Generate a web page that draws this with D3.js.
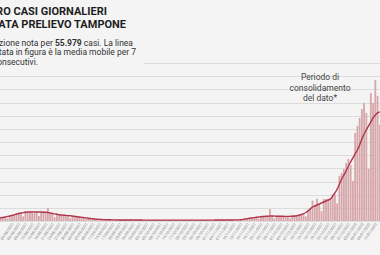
<!DOCTYPE html>
<meta charset="utf-8">
<style>
  body { margin: 0; background: #f4f4f4; overflow: hidden; }
  svg { display: block; font-family: Roboto, sans-serif; }
</style>
<body>
<script src="https://d3js.org/d3.v7.min.js"></script>
<script>
// daily cases by sample date, starting 25/07/2021
var startDate = "2021-07-25";
var casi = [
  1670, 3990, 4350, 4630, 5100, 5740, 5780,
  3760, 8740, 9360, 9890, 11010, 11970, 11550,
  7020, 15210, 14880, 14370, 14530, 14520, 13000,
  7520, 15570, 14710, 13880, 19800, 12930, 11000,
  5930, 11710, 10530, 9580, 9260, 8940, 7800,
  4350, 8560, 7690, 6860, 6380, 5900, 4910,
  2590, 4900, 4180, 3510, 3190, 2860, 2310,
  1250, 2420, 2200, 1920, 1910, 1750, 1590,
  840, 1750, 1670, 1600, 1600, 1600, 1440,
  760, 1580, 1510, 1450, 1440, 1430, 1290,
  740, 1540, 1480, 1410, 1400, 1390, 1260,
  720, 1490, 1430, 1370, 1360, 1350, 1230,
  700, 1450, 1400, 1340, 1330, 1330, 1210,
  710, 1480, 1430, 1380, 1380, 1390, 1270,
  760, 1600, 1550, 1500, 1520, 1530, 1400,
  840, 1790, 1760, 1720, 1760, 1800, 1900,
  1340, 3500, 4010, 4470, 4950, 5430, 5340,
  3340, 7520, 7520, 7450, 7600, 18200, 7200,
  4100, 8360, 8050, 7450, 7450, 7300, 6690,
  3950, 8360, 8360, 8510, 9270, 10340, 10490,
  7100, 17500, 20100, 31000, 24000, 34000, 24500,
  15000, 33300, 33400, 33400, 35100, 39900, 40400,
  26800, 68400, 73000, 79000, 88200, 94200, 85100,
  60800, 133800, 144400, 156600, 170200, 179400, 164200,
  79000, 194600, 179400, 214300, 190000, 146000
];
// 7-day moving average as drawn
var mediaMobile = [
  3040, 3500, 3950, 4410, 4860, 5470, 6080,
  6840, 7600, 8510, 9420, 10490, 11400, 12160,
  12770, 13220, 13530, 13680, 13830, 13830, 13680,
  13680, 13530, 13380, 13220, 12920, 12310, 11550,
  10790, 10180, 9580, 9120, 8820, 8510, 8210,
  7900, 7450, 6990, 6540, 6080, 5620, 5170,
  4710, 4260, 3800, 3340, 3040, 2740, 2430,
  2280, 2130, 1980, 1820, 1820, 1670, 1670,
  1520, 1510, 1500, 1500, 1490, 1480, 1470,
  1450, 1440, 1430, 1420, 1410, 1400, 1390,
  1380, 1370, 1360, 1350, 1340, 1340, 1330,
  1320, 1310, 1300, 1290, 1290, 1280, 1280,
  1270, 1270, 1260, 1260, 1260, 1270, 1270,
  1280, 1290, 1300, 1310, 1330, 1340, 1360,
  1380, 1400, 1420, 1440, 1460, 1490, 1510,
  1540, 1570, 1600, 1640, 1680, 1720, 1980,
  2430, 3040, 3650, 4260, 4710, 5170, 5620,
  6080, 6540, 6840, 7140, 7300, 7600, 7600,
  7450, 7300, 7300, 7140, 7140, 6990, 6990,
  7140, 7300, 7600, 8060, 8820, 9880, 11100,
  12920, 15200, 18240, 21280, 22800, 24320, 25840,
  27360, 28880, 30400, 31920, 33440, 38000, 42560,
  48640, 56240, 63840, 69920, 76000, 83600, 89680,
  95760, 101840, 107920, 115520, 124640, 132240, 138320,
  144400, 150480, 156560, 161120, 164160, 165680
];
var titolo = ["NUMERO CASI GIORNALIERI", "PER DATA PRELIEVO TAMPONE"];
var nota = "Periodo di|consolidamento|del dato*".split("|");

var width = 380, height = 255;
var svg = d3.select("body").append("svg")
    .attr("width", width)
    .attr("height", height);

var date = d3.timeDay.range(d3.isoParse(startDate), d3.timeDay.offset(d3.isoParse(startDate), casi.length));
var data = date.map(function(d, i) { return {date: d, casi: casi[i], media: mediaMobile[i]}; });

var x = d3.scaleBand().domain(date).range([-9.1, 380.7]).paddingInner(0.2);
var y = d3.scaleLinear().domain([0, 240000]).range([221, 63]);

// gridlines
svg.append("g")
  .selectAll("line")
  .data(y.ticks(12))
  .join("line")
    .attr("x1", 0).attr("x2", width)
    .attr("y1", function(d) { return Math.round(y(d)) + 0.5; })
    .attr("y2", function(d) { return Math.round(y(d)) + 0.5; })
    .attr("stroke", "#dcdcdc")
    .attr("stroke-width", 1);

// bars
svg.append("g")
  .selectAll("rect")
  .data(data)
  .join("rect")
    .attr("x", function(d) { return x(d.date); })
    .attr("width", x.bandwidth())
    .attr("y", function(d) { return y(d.casi); })
    .attr("height", function(d) { return y(0) - y(d.casi); })
    .attr("fill", "#d6a6aa");

// moving average line
svg.append("path")
  .datum(data)
  .attr("fill", "none")
  .attr("stroke", "#b1354b")
  .attr("stroke-width", 1.4)
  .attr("d", d3.line()
      .x(function(d) { return x(d.date) + x.bandwidth() / 2; })
      .y(function(d) { return y(d.media); })
      .curve(d3.curveMonotoneX));

// x axis labels (every 3 days, only those fully inside)
var fmt = d3.timeFormat("%d/%m/%Y");
svg.append("g")
  .selectAll("text")
  .data(date.filter(function(d, i) { return i % 3 === 0 && x(d) > 8; }))
  .join("text")
    .attr("transform", function(d) { return "translate(" + (x(d) + x.bandwidth() / 2 + 2) + ",224) rotate(-55)"; })
    .attr("text-anchor", "end")
    .attr("font-size", 3.8)
    .attr("fill", "#7d7d7d")
    .text(fmt);

// subtitle box covers the top gridline
svg.append("rect")
  .attr("x", -40).attr("y", 34)
  .attr("width", 184).attr("height", 33)
  .attr("fill", "#f4f4f4");

// title
svg.append("g")
  .selectAll("text")
  .data(titolo)
  .join("text")
    .attr("x", function(d, i) { return i === 0 ? 107 : 126; })
    .attr("y", function(d, i) { return 15 + i * 13; })
    .attr("text-anchor", "end")
    .attr("font-size", 11)
    .attr("font-weight", 700)
    .attr("fill", "#1e1e1e")
    .text(function(d) { return d; });

var sub = svg.append("g")
    .attr("font-size", 8.5)
    .attr("fill", "#333");
var l1 = sub.append("text").attr("x", 133).attr("y", 45.5).attr("text-anchor", "end");
l1.append("tspan").text("Informazione nota per ");
l1.append("tspan").attr("font-weight", 700).text("55.979");
l1.append("tspan").text("  casi. La linea");
sub.append("text").attr("x", 136).attr("y", 55).attr("text-anchor", "end")
    .text("rappresentata in figura è la media mobile per 7");
sub.append("text").attr("x", 38).attr("y", 64.5).attr("text-anchor", "end")
    .text("giorni consecutivi.");

// annotation
svg.append("g")
  .selectAll("text")
  .data(nota)
  .join("text")
    .attr("x", 320)
    .attr("y", function(d, i) { return 80 + i * 10.5; })
    .attr("text-anchor", "middle")
    .attr("font-size", 8.5)
    .attr("fill", "#444")
    .text(function(d) { return d; });
</script>
</body>
</html>
